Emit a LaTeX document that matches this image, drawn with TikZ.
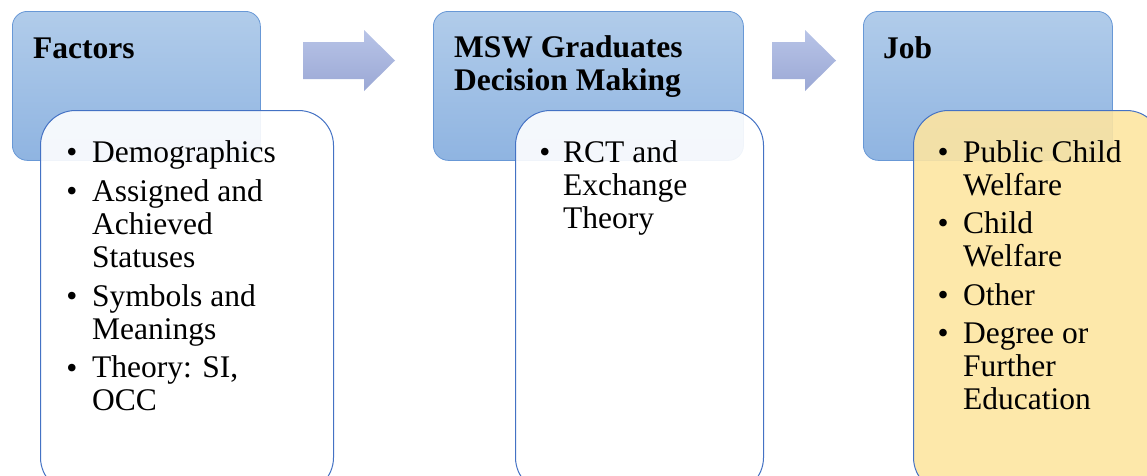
\documentclass[tikz,border=0pt]{standalone}
\usepackage{fontspec}
\setmainfont{Liberation Serif}
\definecolor{hdtop}{RGB}{177,204,234}
\definecolor{hdbot}{RGB}{143,180,225}
\definecolor{hdline}{RGB}{104,152,214}
\definecolor{bxline}{RGB}{68,114,196}
\definecolor{arrtop}{RGB}{184,196,231}
\definecolor{arrbot}{RGB}{155,168,213}
\definecolor{jobfill}{RGB}{253,229,161}
\tikzset{
  hdbox/.style={draw=hdline, line width=0.8pt, rounded corners=15pt,
    top color=hdtop, bottom color=hdbot, anchor=north west,
    minimum width=248pt, minimum height=149pt, inner sep=0pt},
  lowbox/.style={draw=bxline, line width=1pt, rounded corners=35pt,
    fill=white, fill opacity=0.9, anchor=north west,
    minimum height=382pt, inner sep=0pt},
  bigarrow/.style={top color=arrtop, bottom color=arrbot, draw=none},
  txt/.style={inner sep=0pt, anchor=base west, align=left,
    font=\fontsize{31.5}{33}\selectfont},
  ttl/.style={txt, font=\fontsize{31.5}{33}\selectfont\bfseries},
  bul/.style={inner sep=0pt, anchor=base, font=\fontsize{31.5}{33}\selectfont}
}
\begin{document}
\begin{tikzpicture}[x=1pt,y=-1pt]
\useasboundingbox (0,0) rectangle (1147,475);
\clip (0,0) rectangle (1147,475);
% column 1
\node[hdbox] (h1) at (12,11) {};
\node[lowbox, minimum width=293pt] (l1) at (40,110) {};
\node[ttl] (t1) at (33,58) {Factors};
\node[bul] (b11) at (72,162) {\textbullet};
\node[txt] (i11) at (92,162) {Demographics};
\node[bul] (b12) at (72,201) {\textbullet};
\node[txt] (i12) at (92,267) {Assigned and\\Achieved\\Statuses};
\node[bul] (b13) at (72,306) {\textbullet};
\node[txt] (i13) at (92,339) {Symbols and\\Meanings};
\node[bul] (b14) at (72,378) {\textbullet};
\node[txt] (i14) at (92,410) {Theory: SI,\\OCC};
% arrow 1
\path[bigarrow] (303,42) -- (364,42) -- (364,30) -- (395,60.5) -- (364,91) -- (364,79) -- (303,79) -- cycle;
% column 2
\node[hdbox, minimum width=310pt] (h2) at (433,11) {};
\node[lowbox, minimum width=248pt] (l2) at (515,110) {};
\node[ttl] (t2) at (454,90) {MSW Graduates\\Decision Making};
\node[bul] (b21) at (545,162) {\textbullet};
\node[txt] (i21) at (563,228) {RCT and\\Exchange\\Theory};
% arrow 2
\path[bigarrow] (772,42) -- (805,42) -- (805,30) -- (836,60.5) -- (805,91) -- (805,79) -- (772,79) -- cycle;
% column 3
\node[hdbox, minimum width=249pt] (h3) at (863,11) {};
\node[lowbox, minimum width=248pt, fill=jobfill] (l3) at (913,110) {};
\node[ttl] (t3) at (883,58) {Job};
\node[bul] (b31) at (943,162) {\textbullet};
\node[txt] (i31) at (963,195) {Public Child\\Welfare};
\node[bul] (b32) at (943,233) {\textbullet};
\node[txt] (i32) at (963,266) {Child\\Welfare};
\node[bul] (b33) at (943,305) {\textbullet};
\node[txt] (i33) at (963,305) {Other};
\node[bul] (b34) at (943,343) {\textbullet};
\node[txt] (i34) at (963,409) {Degree or\\Further\\Education};
\end{tikzpicture}
\end{document}
